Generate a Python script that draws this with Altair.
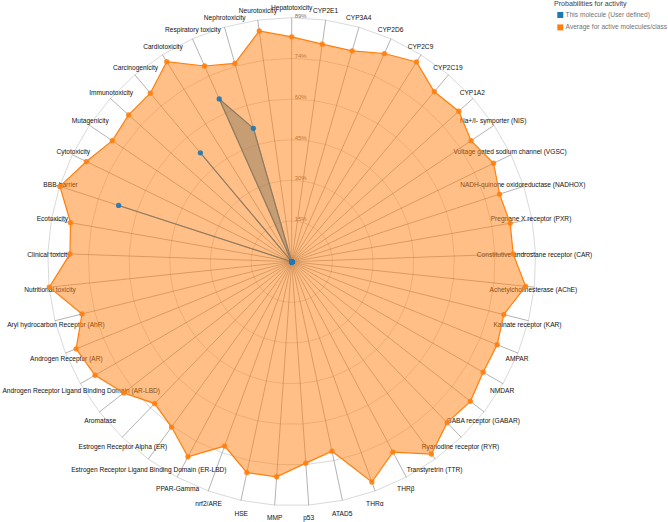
import math
import numpy as np
import pandas as pd
import altair as alt

# ---------------- data ----------------
CATEGORIES = [
    "Hepatotoxicity", "CYP2E1", "CYP3A4", "CYP2D6", "CYP2C9", "CYP2C19", "CYP1A2",
    "Na+/I- symporter (NIS)", "Voltage gated sodium channel (VGSC)",
    "NADH-quinone oxidoreductase (NADHOX)", "Pregnane X receptor (PXR)",
    "Constitutive androstane receptor (CAR)", "Achetylcholinesterase (AChE)",
    "Kainate receptor (KAR)", "AMPAR", "NMDAR", "GABA receptor (GABAR)",
    "Ryanodine receptor (RYR)", "Transtyretrin (TTR)", "THRβ", "THRα", "ATAD5", "p53",
    "MMP", "HSE", "nrf2/ARE", "PPAR-Gamma",
    "Estrogen Receptor Ligand Binding Domain (ER-LBD)", "Estrogen Receptor Alpha (ER)",
    "Aromatase", "Androgen Receptor Ligand Binding Domain (AR-LBD)",
    "Androgen Receptor (AR)", "Aryl hydrocarbon Receptor (AhR)", "Nutritional toxicity",
    "Clinical toxicity", "Ecotoxicity", "BBB-barrier", "Cytotoxicity", "Mutagenicity",
    "Immunotoxicity", "Carcinogenicity", "Cardiotoxicity", "Respiratory toxicity",
    "Nephrotoxicity", "Neurotoxicity",
]

AVERAGE = [
    82.3, 80.4, 80.3, 83.4, 86.2, 81.2, 82.3,
    79.2, 82.2, 80.0, 81.2, 81.1, 86.1,
    80.0, 81.1, 80.9, 83.0, 81.9, 87.0, 78.9, 85.8, 70.9, 73.9,
    78.9, 78.9, 71.8, 80.9, 74.8, 72.2, 78.0, 83.1, 85.1, 79.1, 89.2,
    81.2, 82.2, 89.2, 83.6, 79.2, 80.3, 80.5, 86.3, 78.4, 75.5, 85.3,
]

MOLECULE = [0.0] * 45
MOLECULE[36] = 66.6   # BBB-barrier
MOLECULE[40] = 52.0   # Carcinogenicity
MOLECULE[42] = 65.2   # Respiratory toxicity
MOLECULE[43] = 50.8   # Nephrotoxicity

SERIES = ["This molecule (User defined)", "Average for active molecules/class"]
COLORS = ["#1f77b4", "#ff7f0e"]
LEVEL_LABELS = ["15%", "30%", "45%", "60%", "74%", "89%"]
MAX_VALUE = 89.3
N_LEVELS = 6

# ---------------- layout ----------------
W, H = 668, 522
CX, CY = 291.7, 261.7      # centre of the radar in the picture
R_PX = 244.0               # radius of the outer level
PX = R_PX / MAX_VALUE      # pixels per percent
XDOM = [-CX / PX, (W - CX) / PX]
YDOM = [-(H - CY) / PX, CY / PX]
LABEL_RX = 243.0 / PX
LABEL_RY = 255.5 / PX

n = len(CATEGORIES)
ang = np.arange(n) * 2 * math.pi / n
s, c = np.sin(ang), np.cos(ang)


def series_df(values, name):
    v = np.array(values)
    return pd.DataFrame({"idx": np.arange(n), "cat": CATEGORIES, "value": v,
                         "x": v * s, "y": v * c, "series": name})


mol_df = series_df(MOLECULE, SERIES[0])
avg_df = series_df(AVERAGE, SERIES[1])
nodes_df = pd.concat([mol_df, avg_df], ignore_index=True)

grid_rows = []
for j in range(1, N_LEVELS + 1):
    r = MAX_VALUE * j / N_LEVELS
    for i in range(n):
        grid_rows.append({"level": j, "idx": i, "x": r * s[i], "y": r * c[i]})
grid_df = pd.DataFrame(grid_rows)

axis_df = pd.DataFrame({"idx": np.arange(n), "cat": CATEGORIES,
                        "x0": 0.0, "y0": 0.0,
                        "x": MAX_VALUE * s, "y": MAX_VALUE * c,
                        "lx": LABEL_RX * s, "ly": LABEL_RY * c})

lvl_df = pd.DataFrame({"label": LEVEL_LABELS, "x": 0.0,
                       "y": [MAX_VALUE * j / N_LEVELS for j in range(1, N_LEVELS + 1)]})

xs = alt.Scale(domain=XDOM, nice=False, zero=False)
ys = alt.Scale(domain=YDOM, nice=False, zero=False)
X = lambda f: alt.X(f, type="quantitative", scale=xs, axis=None)
Y = lambda f: alt.Y(f, type="quantitative", scale=ys, axis=None)
FONT = "Liberation Sans"

grid = alt.Chart(grid_df).mark_line(
    interpolate="linear-closed", stroke="grey", strokeWidth=0.5, strokeOpacity=0.6
).encode(x=X("x"), y=Y("y"), detail="level:N", order="idx:Q")

lvl_text = alt.Chart(lvl_df).mark_text(
    align="left", baseline="alphabetic", dx=3, fontSize=6, font=FONT, color="#737373"
).encode(x=X("x"), y=Y("y"), text="label:N")

axes = alt.Chart(axis_df).mark_rule(stroke="grey", strokeWidth=0.6).encode(
    x=X("x0"), y=Y("y0"), x2="x:Q", y2="y:Q")

labels = alt.Chart(axis_df).mark_text(
    align="center", baseline="alphabetic", dy=3.9, fontSize=6.6, font=FONT, color="#111111"
).encode(x=X("lx"), y=Y("ly"), text="cat:N")

mol_poly = alt.Chart(mol_df).mark_line(
    interpolate="linear-closed", stroke=COLORS[0], strokeWidth=1.2,
    fill=COLORS[0], fillOpacity=0.5
).encode(x=X("x"), y=Y("y"), order="idx:Q")

avg_poly = alt.Chart(avg_df).mark_line(
    interpolate="linear-closed", stroke=COLORS[1], strokeWidth=1.2,
    fill=COLORS[1], fillOpacity=0.5
).encode(x=X("x"), y=Y("y"), order="idx:Q")

nodes = alt.Chart(nodes_df).mark_circle(size=28, opacity=0.9).encode(
    x=X("x"), y=Y("y"),
    color=alt.Color("series:N",
                    scale=alt.Scale(domain=SERIES, range=COLORS),
                    legend=alt.Legend(
                        title="Probabilities for activity", orient="none",
                        legendX=554, legendY=0, padding=0,
                        symbolType="square", symbolSize=36, symbolOpacity=1,
                        symbolStrokeWidth=0, symbolOffset=3,
                        titleFontSize=7.1, titleColor="#404040", titleFont=FONT,
                        titleFontWeight="normal", titlePadding=4.6,
                        labelFontSize=6.6, labelColor="#737373", labelFont=FONT,
                        labelOffset=2, rowPadding=5.4, labelLimit=300)),
    tooltip=["cat:N", "value:Q"]
)

chart = alt.layer(grid, lvl_text, axes, labels, mol_poly, avg_poly, nodes).properties(
    width=W, height=H, autosize=alt.AutoSizeParams(type="none"), padding=0
).configure_view(stroke=None)

chart.save("out.html", embed_options={"renderer": "svg", "actions": False})
